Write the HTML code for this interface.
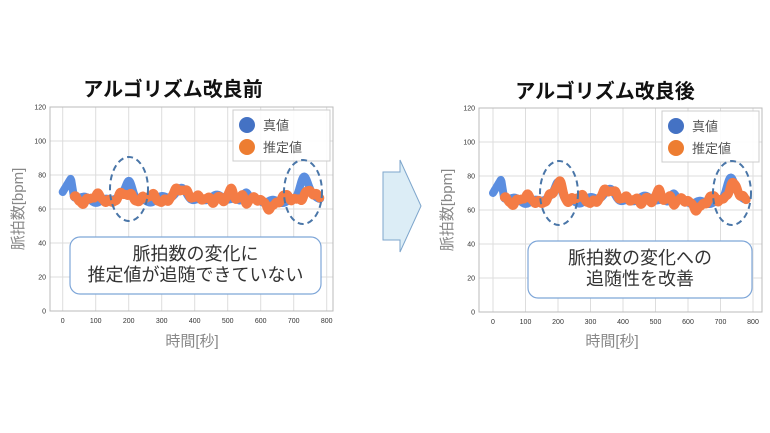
<!DOCTYPE html>
<html><head><meta charset="utf-8"><style>
html,body{margin:0;padding:0;background:#fff;width:770px;height:433px;overflow:hidden}
svg text{font-family:"Liberation Sans","Noto Sans CJK JP",sans-serif}
</style></head><body>
<svg id="s" width="770" height="433" xmlns="http://www.w3.org/2000/svg">
<text x="173" y="96" font-size="20" font-weight="bold" text-anchor="middle" fill="#111">アルゴリズム改良前</text>
<text x="605" y="98" font-size="20" font-weight="bold" text-anchor="middle" fill="#111">アルゴリズム改良後</text>
<path d="M383 172 L400 172 L400 160 L421 206 L400 252 L400 240 L383 240 Z" fill="#dcedf6" stroke="#7ea6cc" stroke-width="1"/>
<g id="c1"></g><g id="c2"></g>
</svg>
<script>
const NS="http://www.w3.org/2000/svg";
function el(p,t,a,txt){const e=document.createElementNS(NS,t);for(const k in a)e.setAttribute(k,a[k]);if(txt!=null)e.textContent=txt;p.appendChild(e);return e;}
function g(t,c,w){return Math.exp(-((t-c)*(t-c))/(2*w*w));}
function truth(t){
 let v=66+1.5*Math.sin(t/23)+1*Math.sin(t/9);
 if(t<35)v=70+8*(t/25)*(t<25?1:0)+(t>=25?(8-(t-25)*1.2):0);
 v+=10*g(t,202,10)+6*g(t,365,15)+6*g(t,555,8)+13*g(t,730,12)-3*g(t,620,25);
 return v;}
function est(t,good){
 let v=66+2*Math.sin(t/13)+1.2*Math.sin(t/5.3)+0.5*Math.sin(t/2.7)+5*g(t,370,25)-3.5*g(t,620,25)+3*g(t,470,6)+3*g(t,510,6)+3*g(t,545,6)-2*g(t,430,15);
 if(good)v+=10*g(t,205,12)+9*g(t,735,14);else v+=2*g(t,205,20)+3*g(t,740,20);
 return v;}
function chart(id,px0,px1,py0,pyT,x0,x800,good,lx,ly,box,lines,ell,cx){
 const G=document.getElementById(id);
 const X=t=>x0+(x800-x0)*t/800, Y=v=>py0-(py0-pyT)*v/120;
 for(let i=0;i<=8;i++){const x=X(i*100);el(G,'line',{x1:x,x2:x,y1:pyT,y2:py0,stroke:'#ddd','stroke-width':1});
  el(G,'text',{x:x,y:py0+12,'font-size':7,'text-anchor':'middle',fill:'#333'},i*100);}
 for(let i=0;i<=6;i++){const y=Y(i*20);el(G,'line',{x1:px0,x2:px1,y1:y,y2:y,stroke:'#ddd','stroke-width':1});
  el(G,'text',{x:px0-4,y:y+2.5,'font-size':7,'text-anchor':'end',fill:'#333'},i*20);}
 el(G,'rect',{x:px0,y:pyT,width:px1-px0,height:py0-pyT,fill:'none',stroke:'#bbb','stroke-width':1});
 let p='';for(let t=0;t<=780;t+=2)p+=X(t)+','+Y(truth(t))+' ';
 el(G,'polyline',{points:p,fill:'none',stroke:'#5b8ee0','stroke-width':8,'stroke-linecap':'round','stroke-linejoin':'round'});
 p='';for(let t=35;t<=780;t+=2)p+=X(t)+','+Y(est(t,good))+' ';
 el(G,'polyline',{points:p,fill:'none',stroke:'#f47c45','stroke-width':9,'stroke-linecap':'round','stroke-linejoin':'round'});
 el(G,'rect',{x:lx,y:ly,width:97,height:51,fill:'#fff','fill-opacity':0.9,stroke:'#ccc'});
 el(G,'circle',{cx:lx+14,cy:ly+15,r:8,fill:'#4472c4'});
 el(G,'circle',{cx:lx+14,cy:ly+37,r:8,fill:'#ed7d31'});
 el(G,'text',{x:lx+30,y:ly+20,'font-size':13,fill:'#555'},'真値');
 el(G,'text',{x:lx+30,y:ly+42,'font-size':13,fill:'#555'},'推定値');
 for(const e of ell)el(G,'ellipse',{cx:e[0],cy:e[1],rx:e[2],ry:e[3],fill:'none',stroke:'#4a76a8','stroke-width':2,'stroke-dasharray':'6,4'});
 el(G,'rect',{x:box[0],y:box[1],width:box[2],height:box[3],rx:10,fill:'#fff',stroke:'#7ea6d8','stroke-width':1.2});
 lines.forEach((l,i)=>el(G,'text',{x:box[0]+box[2]/2,y:box[1]+23+i*21,'font-size':18,'text-anchor':'middle',fill:'#333'},l));
 el(G,'text',{x:cx,y:346,'font-size':15,'text-anchor':'middle',fill:'#888'},'時間[秒]');
 el(G,'text',{x:0,y:0,'font-size':15,'text-anchor':'middle',fill:'#888',transform:`translate(${px0-27},${(py0+pyT)/2}) rotate(-90)`},'脈拍数[bpm]');
}
chart('c1',50,333,311,107,62.7,326.7,false,233,110,[70,237,251,57],['脈拍数の変化に','推定値が追随できていない'],[[129,189,19,32],[303,192,19,32]],192);
chart('c2',479,762,312,108,493,753,true,662,111,[528,241,224,57],['脈拍数の変化への','追随性を改善'],[[559,193,19,32],[732,193,19,32]],612);
</script>
</body></html>
